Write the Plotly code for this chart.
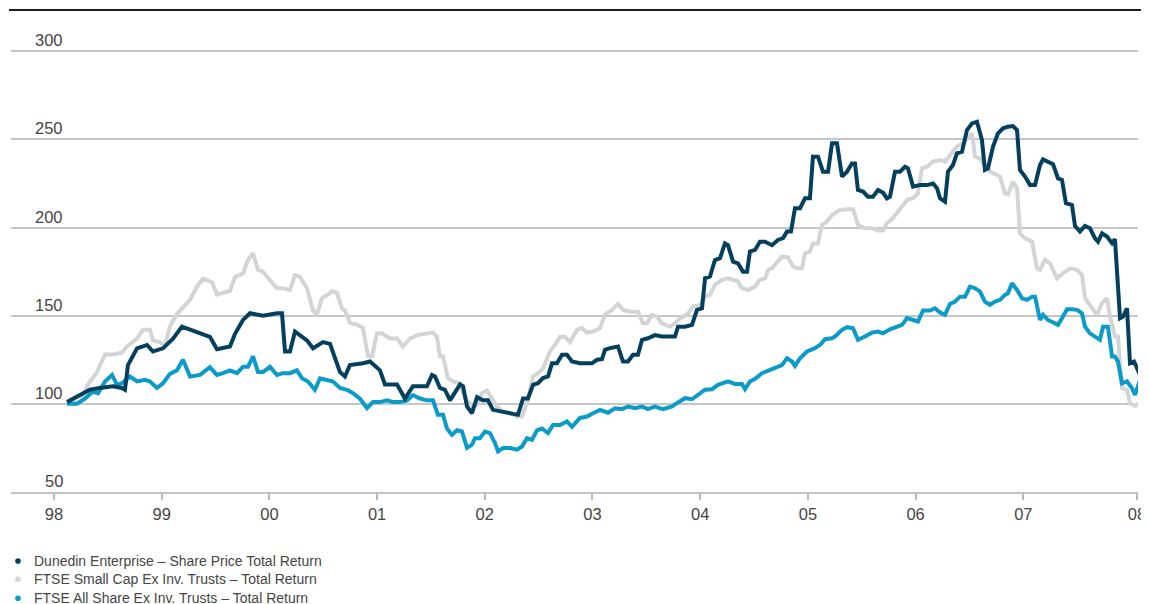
import plotly.graph_objects as go

# ---------------- data (decimal years, index values) ----------------
dunedin_dates = [
    1998.121, 1998.241, 1998.334, 1998.427, 1998.548, 1998.631, 1998.659, 1998.687, 1998.771, 1998.864,
    1998.919, 1999.012, 1999.105, 1999.188, 1999.263, 1999.356, 1999.448, 1999.513, 1999.634, 1999.681,
    1999.755, 1999.820, 1999.941, 2000.071, 2000.117, 2000.145, 2000.191, 2000.238, 2000.349, 2000.405,
    2000.498, 2000.563, 2000.591, 2000.656, 2000.702, 2000.748, 2000.869, 2000.934, 2001.027, 2001.073,
    2001.185, 2001.259, 2001.333, 2001.463, 2001.510, 2001.538, 2001.584, 2001.630, 2001.677, 2001.723,
    2001.770, 2001.798, 2001.835, 2001.881, 2001.928, 2001.983, 2002.030, 2002.076, 2002.141, 2002.206,
    2002.262, 2002.308, 2002.355, 2002.401, 2002.448, 2002.494, 2002.540, 2002.587, 2002.624, 2002.670,
    2002.717, 2002.763, 2002.810, 2002.884, 2002.949, 2002.995, 2003.042, 2003.088, 2003.116, 2003.162,
    2003.237, 2003.283, 2003.330, 2003.376, 2003.422, 2003.460, 2003.515, 2003.580, 2003.645, 2003.701,
    2003.766, 2003.794, 2003.859, 2003.924, 2003.970, 2004.017, 2004.045, 2004.091, 2004.137, 2004.184,
    2004.230, 2004.258, 2004.305, 2004.351, 2004.397, 2004.435, 2004.462, 2004.509, 2004.555, 2004.602,
    2004.667, 2004.722, 2004.769, 2004.806, 2004.843, 2004.880, 2004.927, 2004.973, 2005.019, 2005.047,
    2005.094, 2005.140, 2005.187, 2005.224, 2005.270, 2005.317, 2005.363, 2005.409, 2005.437, 2005.465,
    2005.512, 2005.558, 2005.604, 2005.651, 2005.697, 2005.734, 2005.762, 2005.809, 2005.855, 2005.902,
    2005.929, 2005.976, 2006.041, 2006.106, 2006.162, 2006.199, 2006.227, 2006.273, 2006.301, 2006.347,
    2006.384, 2006.431, 2006.477, 2006.524, 2006.570, 2006.616, 2006.644, 2006.672, 2006.719, 2006.765,
    2006.812, 2006.858, 2006.904, 2006.942, 2006.969, 2007.016, 2007.062, 2007.109, 2007.155, 2007.183,
    2007.229, 2007.276, 2007.322, 2007.359, 2007.396, 2007.452, 2007.480, 2007.526, 2007.573, 2007.619,
    2007.666, 2007.694, 2007.731, 2007.777, 2007.824, 2007.851, 2007.898, 2007.926, 2007.963, 2007.991,
    2008.028, 2008.084,
]
dunedin_values = [
    101, 105, 108, 109, 110, 109, 108, 122, 131.5, 133.4,
    129.7, 131.5, 137, 143.8, 142, 140, 138, 131, 132.5, 139.7,
    147.6, 151.4, 150, 151.4, 151.4, 129.7, 129.7, 141, 136, 131.5,
    135, 134, 128.7, 118, 115.5, 122, 123, 124, 119, 111,
    111, 103, 110, 110, 116.4, 115.5, 109, 108, 102, 106,
    111, 110, 98.5, 94.7, 103.8, 102, 102, 96.6, 95.6, 95,
    94.3, 93.8, 103, 103, 110.8, 111.7, 114.6, 115.5, 123, 123,
    127.8, 127.8, 124, 123, 123, 123, 125, 125.3, 130.6, 131.6,
    132.5, 124, 124, 127.8, 127.8, 136.3, 137.2, 139, 138.2, 138.2,
    138.2, 143.8, 143.8, 144.8, 153.3, 154.2, 171.2, 172.2, 181.6, 182.6,
    191, 190, 180.7, 179.7, 175, 175, 186.4, 187.3, 192, 192,
    190, 193, 194, 197.7, 197.7, 211, 211, 216.6, 216.6, 240.2,
    240.2, 231.7, 231.7, 247.8, 247.8, 228.9, 231.7, 236.4, 236.4, 221.3,
    220.4, 217.5, 217.5, 221.3, 219.8, 216.6, 217.5, 231.7, 231.7, 234.5,
    233.6, 223.2, 224.1, 224.1, 225, 222.3, 216.6, 214.7, 231.7, 235.5,
    242.1, 243, 255.3, 259.1, 260, 249.7, 232.7, 233.6, 245.9, 253.4,
    256.3, 257.2, 257.6, 255.3, 232.7, 228.9, 224.1, 224.1, 235.5, 238.7,
    237.4, 236, 227.9, 227, 213.8, 212.8, 200.9, 197.7, 200.9, 199.6,
    193.9, 192, 196.7, 194.9, 191.1, 193.4, 148.6, 149.5, 154.2, 123,
    124, 116.4,
]

smallcap_dates = [
    1998.121, 1998.241, 1998.316, 1998.399, 1998.474, 1998.548, 1998.631, 1998.678, 1998.771, 1998.826,
    1998.891, 1998.919, 1998.984, 1999.031, 1999.077, 1999.142, 1999.188, 1999.263, 1999.328, 1999.383,
    1999.467, 1999.513, 1999.569, 1999.634, 1999.681, 1999.755, 1999.801, 1999.848, 1999.894, 1999.941,
    2000.006, 2000.071, 2000.126, 2000.191, 2000.238, 2000.284, 2000.349, 2000.405, 2000.442, 2000.488,
    2000.544, 2000.581, 2000.628, 2000.674, 2000.702, 2000.748, 2000.813, 2000.869, 2000.916, 2000.953,
    2000.999, 2001.045, 2001.120, 2001.185, 2001.240, 2001.305, 2001.370, 2001.519, 2001.556, 2001.584,
    2001.612, 2001.658, 2001.705, 2001.770, 2001.798, 2001.835, 2001.881, 2001.928, 2001.974, 2002.020,
    2002.067, 2002.113, 2002.169, 2002.234, 2002.299, 2002.345, 2002.392, 2002.448, 2002.494, 2002.540,
    2002.605, 2002.652, 2002.698, 2002.745, 2002.791, 2002.856, 2002.903, 2002.949, 2003.005, 2003.070,
    2003.116, 2003.181, 2003.237, 2003.283, 2003.348, 2003.422, 2003.469, 2003.506, 2003.552, 2003.599,
    2003.645, 2003.720, 2003.766, 2003.812, 2003.877, 2003.933, 2003.998, 2004.045, 2004.091, 2004.137,
    2004.202, 2004.258, 2004.305, 2004.351, 2004.388, 2004.444, 2004.509, 2004.555, 2004.602, 2004.630,
    2004.667, 2004.713, 2004.759, 2004.815, 2004.862, 2004.899, 2004.945, 2004.973, 2005.019, 2005.047,
    2005.094, 2005.131, 2005.177, 2005.224, 2005.298, 2005.372, 2005.419, 2005.465, 2005.530, 2005.595,
    2005.651, 2005.697, 2005.734, 2005.790, 2005.855, 2005.920, 2005.976, 2006.022, 2006.059, 2006.106,
    2006.162, 2006.227, 2006.273, 2006.319, 2006.384, 2006.440, 2006.487, 2006.524, 2006.552, 2006.598,
    2006.644, 2006.691, 2006.756, 2006.784, 2006.830, 2006.858, 2006.904, 2006.942, 2006.969, 2007.016,
    2007.081, 2007.127, 2007.155, 2007.201, 2007.248, 2007.313, 2007.369, 2007.434, 2007.499, 2007.545,
    2007.573, 2007.619, 2007.684, 2007.731, 2007.777, 2007.805, 2007.851, 2007.879, 2007.916, 2007.963,
    2007.991, 2008.037, 2008.084,
]
smallcap_values = [
    100.5, 101, 111, 118, 128, 128, 129, 132.5, 137, 142,
    142, 136, 135, 133, 144, 151, 154, 159, 166.5, 171,
    169, 162, 163, 164, 172, 174, 181.6, 185.4, 176, 175,
    170, 165.6, 165.6, 164.6, 173, 172, 165.6, 153, 150.5, 160,
    162, 164, 163, 154, 153, 146, 145, 143, 127, 127,
    140, 140, 137, 137, 132.5, 137, 139, 140.4, 138, 127,
    127, 114.5, 112.7, 111.7, 106, 102, 99, 99.4, 106, 107.6,
    103, 98.5, 95.7, 95, 92.8, 92.8, 100.4, 115.5, 117.4, 120,
    129.7, 133.4, 138, 138, 135, 142, 143, 140.4, 141, 143,
    150.5, 153.3, 156.7, 153.3, 152.3, 152.3, 145.7, 145.7, 150.5, 149.5,
    145.7, 143.8, 145.7, 148.5, 150.5, 155.2, 156.1, 160.8, 161.8, 167.5,
    170.3, 171.2, 170.3, 169.4, 165.6, 164.6, 166.5, 170.3, 171.2, 176,
    177, 180.7, 183.5, 183.1, 177.9, 176.9, 176.9, 185.4, 186.4, 191,
    191, 201.5, 203.4, 207.1, 210, 210.4, 210.4, 201.5, 199.6, 199.6,
    198.3, 198.3, 202.4, 205.3, 210.9, 215.6, 216.6, 219.4, 233.6, 234.5,
    237.4, 238.3, 237.4, 241.2, 245.9, 247.8, 250.6, 253.4, 240.2, 239.3,
    234.5, 231.7, 229.8, 228.9, 219.4, 218.9, 226, 222.3, 196.7, 193.9,
    192, 176.9, 176, 181.6, 179.7, 171.2, 174.1, 176.9, 176, 173.1,
    159.9, 156.1, 150.5, 157.1, 159.9, 149.5, 138.2, 138.2, 108.9, 107.9,
    100.4, 98.9, 100.4,
]

allshare_dates = [
    1998.121, 1998.214, 1998.288, 1998.362, 1998.409, 1998.474, 1998.539, 1998.585, 1998.631, 1998.706,
    1998.771, 1998.845, 1998.891, 1998.956, 1999.012, 1999.077, 1999.142, 1999.198, 1999.263, 1999.356,
    1999.448, 1999.513, 1999.569, 1999.634, 1999.699, 1999.755, 1999.801, 1999.848, 1999.894, 1999.941,
    2000.006, 2000.071, 2000.126, 2000.191, 2000.256, 2000.303, 2000.358, 2000.423, 2000.470, 2000.535,
    2000.591, 2000.656, 2000.721, 2000.776, 2000.841, 2000.906, 2000.962, 2001.027, 2001.092, 2001.148,
    2001.213, 2001.278, 2001.333, 2001.398, 2001.463, 2001.519, 2001.565, 2001.612, 2001.649, 2001.695,
    2001.742, 2001.788, 2001.835, 2001.881, 2001.909, 2001.955, 2002.002, 2002.048, 2002.095, 2002.123,
    2002.169, 2002.234, 2002.299, 2002.345, 2002.392, 2002.438, 2002.485, 2002.531, 2002.587, 2002.633,
    2002.698, 2002.763, 2002.810, 2002.884, 2002.949, 2003.005, 2003.070, 2003.144, 2003.209, 2003.274,
    2003.330, 2003.395, 2003.460, 2003.515, 2003.580, 2003.655, 2003.738, 2003.794, 2003.859, 2003.924,
    2003.980, 2004.045, 2004.110, 2004.165, 2004.258, 2004.323, 2004.388, 2004.416, 2004.462, 2004.509,
    2004.574, 2004.630, 2004.695, 2004.759, 2004.806, 2004.852, 2004.880, 2004.927, 2004.992, 2005.066,
    2005.112, 2005.159, 2005.224, 2005.252, 2005.317, 2005.363, 2005.419, 2005.465, 2005.530, 2005.595,
    2005.651, 2005.697, 2005.762, 2005.827, 2005.874, 2005.920, 2005.976, 2006.022, 2006.069, 2006.134,
    2006.180, 2006.227, 2006.273, 2006.319, 2006.366, 2006.412, 2006.459, 2006.505, 2006.552, 2006.598,
    2006.644, 2006.691, 2006.737, 2006.784, 2006.830, 2006.858, 2006.895, 2006.942, 2006.988, 2007.034,
    2007.081, 2007.109, 2007.155, 2007.183, 2007.229, 2007.276, 2007.322, 2007.359, 2007.406, 2007.452,
    2007.499, 2007.545, 2007.573, 2007.619, 2007.666, 2007.712, 2007.740, 2007.786, 2007.824, 2007.851,
    2007.879, 2007.916, 2007.963, 2008.009, 2008.037, 2008.084,
]
allshare_values = [
    100, 100, 103, 107, 106, 112.7, 116.4, 110.8, 111.7, 115.5,
    112.7, 113.6, 112.7, 109, 111.7, 117, 119, 125, 115.5, 116.4,
    120.8, 116.4, 117.4, 119, 117.4, 121, 121, 127, 118, 118,
    121, 116.4, 117.4, 117.4, 119, 114.5, 112.7, 108, 114.5, 113.6,
    112.7, 109, 108, 106, 103, 97.5, 101, 101, 102, 101,
    101, 102, 105, 103, 102, 102, 93.8, 93.8, 86, 82.4,
    85, 84.3, 75, 76.8, 80.5, 80.5, 84.3, 83.4, 77.7, 73,
    74.9, 74.9, 74, 75.8, 80.5, 79.6, 85, 86, 83.4, 88,
    88, 90, 87, 92, 92.8, 94.7, 96.6, 95, 97.5, 97,
    98.5, 97.5, 98.5, 97, 98.5, 97, 98.5, 100.8, 103.2, 102.6,
    105, 108, 108.3, 110.8, 112.7, 111.3, 111.3, 108.3, 112.7, 114.2,
    117.4, 118.9, 120.2, 122, 125.9, 124, 121.5, 125.9, 129.7, 131.6,
    133.4, 136.7, 137.2, 138.2, 142, 143.5, 142.9, 136.3, 138.2, 140.4,
    141, 140, 142.3, 143.8, 144.8, 148.6, 147.6, 146.7, 152.9, 152.9,
    154.2, 151.8, 150.5, 156.7, 158, 160.8, 160.8, 166.5, 165.6, 163.7,
    158, 156.1, 158, 159, 161.8, 162.7, 168.4, 164.6, 159.9, 159,
    160.8, 160.8, 147.6, 150.5, 147.6, 146.1, 144.8, 148.6, 153.7, 153.7,
    153.3, 151.4, 143.8, 140, 138.2, 136.3, 143.8, 143.8, 126.8, 126.8,
    124, 111.7, 112.7, 108.9, 105.1, 113.6,
]

series_names = [
    "Dunedin Enterprise – Share Price Total Return",
    "FTSE Small Cap Ex Inv. Trusts – Total Return",
    "FTSE All Share Ex Inv. Trusts – Total Return",
]
series_colors = ["#053f5e", "#d3d4d6", "#0a9bc8"]

y_ticks = [50, 100, 150, 200, 250, 300]
x_tick_vals = [1998, 1999, 2000, 2001, 2002, 2003, 2004, 2005, 2006, 2007, 2008.056]
x_tick_text = ["98", "99", "00", "01", "02", "03", "04", "05", "06", "07", "08"]

# ---------------- figure ----------------
FONT = "Liberation Sans, Arial, Helvetica, sans-serif"
TXT = "#454545"

fig = go.Figure()
draw_order = [
    (smallcap_dates, smallcap_values, series_colors[1]),
    (allshare_dates, allshare_values, series_colors[2]),
    (dunedin_dates, dunedin_values, series_colors[0]),
]
for xs, ys, col in draw_order:
    fig.add_trace(go.Scatter(
        x=xs, y=ys, mode="lines",
        line=dict(color=col, width=4),
        cliponaxis=False, showlegend=False, hoverinfo="skip",
    ))

annotations = []
for v in y_ticks:
    annotations.append(dict(
        x=0.0479, xref="paper", xanchor="right",
        y=v, yref="y", yanchor="bottom",
        text=str(v), showarrow=False,
        font=dict(family=FONT, size=16.5, color=TXT),
    ))

shapes = [dict(
    type="line", xref="paper", yref="paper",
    x0=-0.0018, x1=1.0098, y0=1, y1=1,
    line=dict(color="#1e1e1e", width=2),
)]

legend_rows = [-0.1432, -0.1811, -0.2205]
for name, col, yy in zip(series_names, series_colors, legend_rows):
    shapes.append(dict(
        type="circle", xref="paper", yref="paper",
        xsizemode="pixel", ysizemode="pixel",
        xanchor=0.0062, yanchor=yy,
        x0=-2.8, x1=2.8, y0=-2.8, y1=2.8,
        fillcolor=col, line=dict(width=0),
    ))
    annotations.append(dict(
        x=0.0186, xref="paper", xanchor="left",
        y=yy, yref="paper", yanchor="middle",
        text=name, showarrow=False,
        font=dict(family=FONT, size=14, color=TXT),
    ))

# the page body has an 8px default margin, so the figure is sized to fit
fig.update_layout(
    width=1141, height=596,
    margin=dict(l=3, r=11, t=2, b=112),
    paper_bgcolor="white", plot_bgcolor="white",
    showlegend=False,
    xaxis=dict(
        range=[1997.601, 2008.065],
        tickmode="array", tickvals=x_tick_vals, ticktext=x_tick_text,
        ticks="outside", ticklen=6, tickwidth=1.5, tickcolor="#b8b8b8",
        showline=True, linecolor="#c4c4c4", linewidth=1.5,
        showgrid=False, zeroline=False,
        tickfont=dict(family=FONT, size=16.5, color=TXT),
        ticklabelstandoff=0,
    ),
    yaxis=dict(
        range=[50, 323.4],
        tickmode="array", tickvals=y_ticks,
        showticklabels=False, ticks="",
        showgrid=True, gridcolor="#c6c6c6", gridwidth=1.5,
        zeroline=False, showline=False,
    ),
    annotations=annotations,
    shapes=shapes,
)

fig.write_html("out.html")
